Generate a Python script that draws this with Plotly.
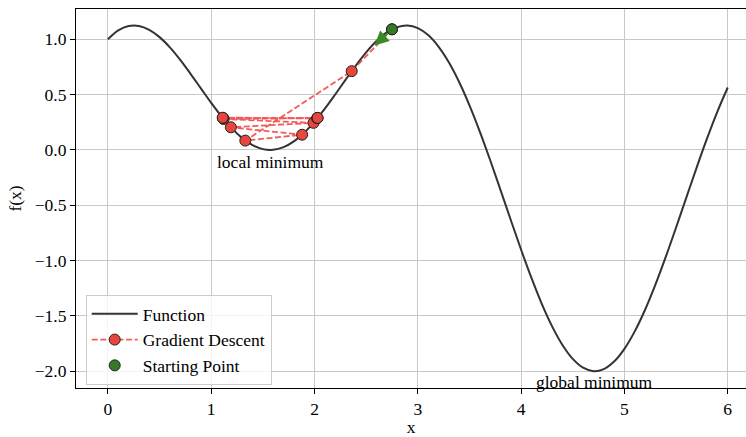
import plotly.graph_objects as go

# Function curve samples (x step 0.1)
func_x = [round(i * 0.1, 1) for i in range(61)]
func_y = [1.0000, 1.0799, 1.1197, 1.1209, 1.0861, 1.0197, 0.9270, 0.8142, 0.6882, 0.5561,
          0.4253, 0.3027, 0.1946, 0.1067, 0.0432, 0.0075, 0.0013, 0.0249, 0.0771, 0.1553,
          0.2557, 0.3729, 0.5012, 0.6335, 0.7630, 0.8821, 0.9840, 1.0621, 1.1106, 1.1248,
          1.1013, 1.0381, 0.9348, 0.7925, 0.6139, 0.4031, 0.1658, -0.0913, -0.3606, -0.6338,
          -0.9023, -1.1574, -1.3909, -1.5949, -1.7627, -1.8887, -1.9685, -1.9996, -1.9808, -1.9129,
          -1.7980, -1.6401, -1.4444, -1.2176, -0.9671, -0.7011, -0.4283, -0.1572, 0.1037, 0.3466,
          0.5644]

# Gradient descent path
gd_x = [2.75, 2.36, 1.33, 1.88, 1.19, 1.99, 1.12, 2.026, 1.113, 2.028, 1.111, 2.03]
gd_y = [1.0903, 0.7122, 0.0845, 0.1375, 0.2046, 0.2448, 0.2797, 0.2870, 0.2890, 0.2895, 0.2911, 0.2897]

start_x = [2.75]
start_y = [1.0903]

arrow_tip = (2.58, 0.945)

labels = ["local minimum", "global minimum"]
label_x = [1.5708, 4.7124]
label_y = [-0.11, -2.095]

FONT = "Liberation Serif"

fig = go.Figure()
fig.add_trace(go.Scatter(x=func_x, y=func_y, mode="lines", name="Function",
                         line=dict(color="#333333", width=2, shape="spline")))
fig.add_trace(go.Scatter(x=gd_x, y=gd_y, mode="lines+markers", name="Gradient Descent",
                         line=dict(color="rgba(240,50,50,0.8)", width=1.8, dash="6px,2.6px"),
                         marker=dict(size=11, color="#e8463c", line=dict(color="#222222", width=1))))
fig.add_trace(go.Scatter(x=start_x, y=start_y, mode="markers", name="Starting Point",
                         marker=dict(size=11, color="#367a25", line=dict(color="#222222", width=1))))

fig.add_annotation(x=arrow_tip[0], y=arrow_tip[1], ax=start_x[0], ay=start_y[0],
                   xref="x", yref="y", axref="x", ayref="y", text="", showarrow=True,
                   arrowhead=2, arrowsize=1.3, arrowwidth=2.2, arrowcolor="#3a8a26", standoff=0,
                   startstandoff=4)

for t, xx, yy in zip(labels, label_x, label_y):
    fig.add_annotation(x=xx, y=yy, xref="x", yref="y", text=t, showarrow=False,
                       font=dict(family=FONT, size=17.5, color="black"),
                       xanchor="center", yanchor="middle")

axis_common = dict(showgrid=True, gridcolor="#c8c8c8", gridwidth=1, zeroline=False,
                   showline=True, linecolor="black", linewidth=1.2,
                   ticks="outside", ticklen=5, tickcolor="black", tickwidth=1.2,
                   tickfont=dict(family=FONT, size=17.5, color="black"))

fig.update_xaxes(range=[-0.309, 6.177], tickvals=[0, 1, 2, 3, 4, 5, 6], mirror=True,
                 title=dict(text="x", font=dict(family=FONT, size=17.5, color="black"), standoff=6),
                 **axis_common)
fig.update_yaxes(range=[-2.152, 1.274], tickvals=[-2.0, -1.5, -1.0, -0.5, 0.0, 0.5, 1.0],
                 tickformat=".1f",
                 title=dict(text="f(x)", font=dict(family=FONT, size=17.5, color="black"), standoff=8),
                 **axis_common)

fig.update_layout(
    width=746, height=437,
    margin=dict(l=76, r=0, t=9, b=44, pad=0),
    plot_bgcolor="white", paper_bgcolor="white",
    font=dict(family=FONT, size=17.5, color="black"),
    legend=dict(x=0.0145, y=0.008, xanchor="left", yanchor="bottom",
                bgcolor="rgba(255,255,255,0.8)", bordercolor="#cccccc", borderwidth=1,
                itemwidth=46,
                font=dict(family=FONT, size=17.5, color="black"), tracegroupgap=0),
    showlegend=True,
)

fig.write_html("out.html")
